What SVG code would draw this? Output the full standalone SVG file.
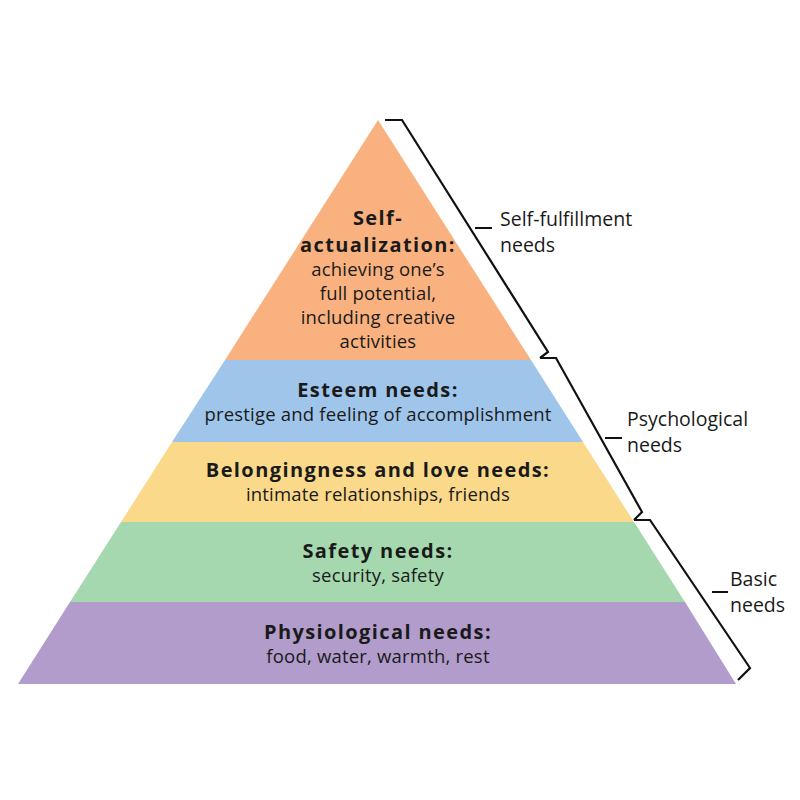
<svg xmlns="http://www.w3.org/2000/svg" width="800" height="800" viewBox="0 0 800 800">
<style>
text{font-family:"Open Sans","Liberation Sans",sans-serif;fill:#1a1a1a;text-anchor:middle}
.b{font-weight:bold;font-size:20px;letter-spacing:1.4px}
.r{font-size:18.5px;letter-spacing:0.2px}
.s{font-size:19.5px;text-anchor:start}
.br{fill:none;stroke:#111;stroke-width:2.2}
</style>
<rect width="800" height="800" fill="#fff"/>
<g id="self"><polygon points="378,120 531,360 225,360" fill="#F9B27F"/>
<text class="b" x="378" y="225">Self-</text><text class="b" x="378" y="252">actualization:</text>
<text class="r" x="378" y="276">achieving one’s</text><text class="r" x="378" y="300">full potential,</text>
<text class="r" x="378" y="324">including creative</text><text class="r" x="378" y="348">activities</text></g>
<g id="esteem"><polygon points="531,360 583,442 172,442 225,360" fill="#9FC5EB"/>
<text class="b" x="378" y="397">Esteem needs:</text><text class="r" x="378" y="421">prestige and feeling of accomplishment</text></g>
<g id="belong"><polygon points="583,442 634,522 121,522 172,442" fill="#FAD98A"/>
<text class="b" x="378" y="477">Belongingness and love needs:</text><text class="r" x="378" y="501">intimate relationships, friends</text></g>
<g id="safety"><polygon points="634,522 685,602 70,602 121,522" fill="#A5D8AE"/>
<text class="b" x="378" y="558">Safety needs:</text><text class="r" x="378" y="582">security, safety</text></g>
<g id="physio"><polygon points="685,602 736,684 18,684 70,602" fill="#B19CCB"/>
<text class="b" x="378" y="639">Physiological needs:</text><text class="r" x="378" y="663">food, water, warmth, rest</text></g>
<g id="connectors">
<path class="br" d="M385,120 H402 L548,352 L540,358 M475,228 H492"/>
<path class="br" d="M540,358 H556 L642,512 L634,520 M605,438 H622"/>
<path class="br" d="M634,520 H650 L750,668 L738,680 M712,592 H728"/>
</g>
<g id="labels">
<text class="s" x="500" y="226">Self-fulfillment</text><text class="s" x="500" y="252">needs</text>
<text class="s" x="627" y="426">Psychological</text><text class="s" x="627" y="452">needs</text>
<text class="s" x="730" y="586">Basic</text><text class="s" x="730" y="612">needs</text>
</g>
</svg>
